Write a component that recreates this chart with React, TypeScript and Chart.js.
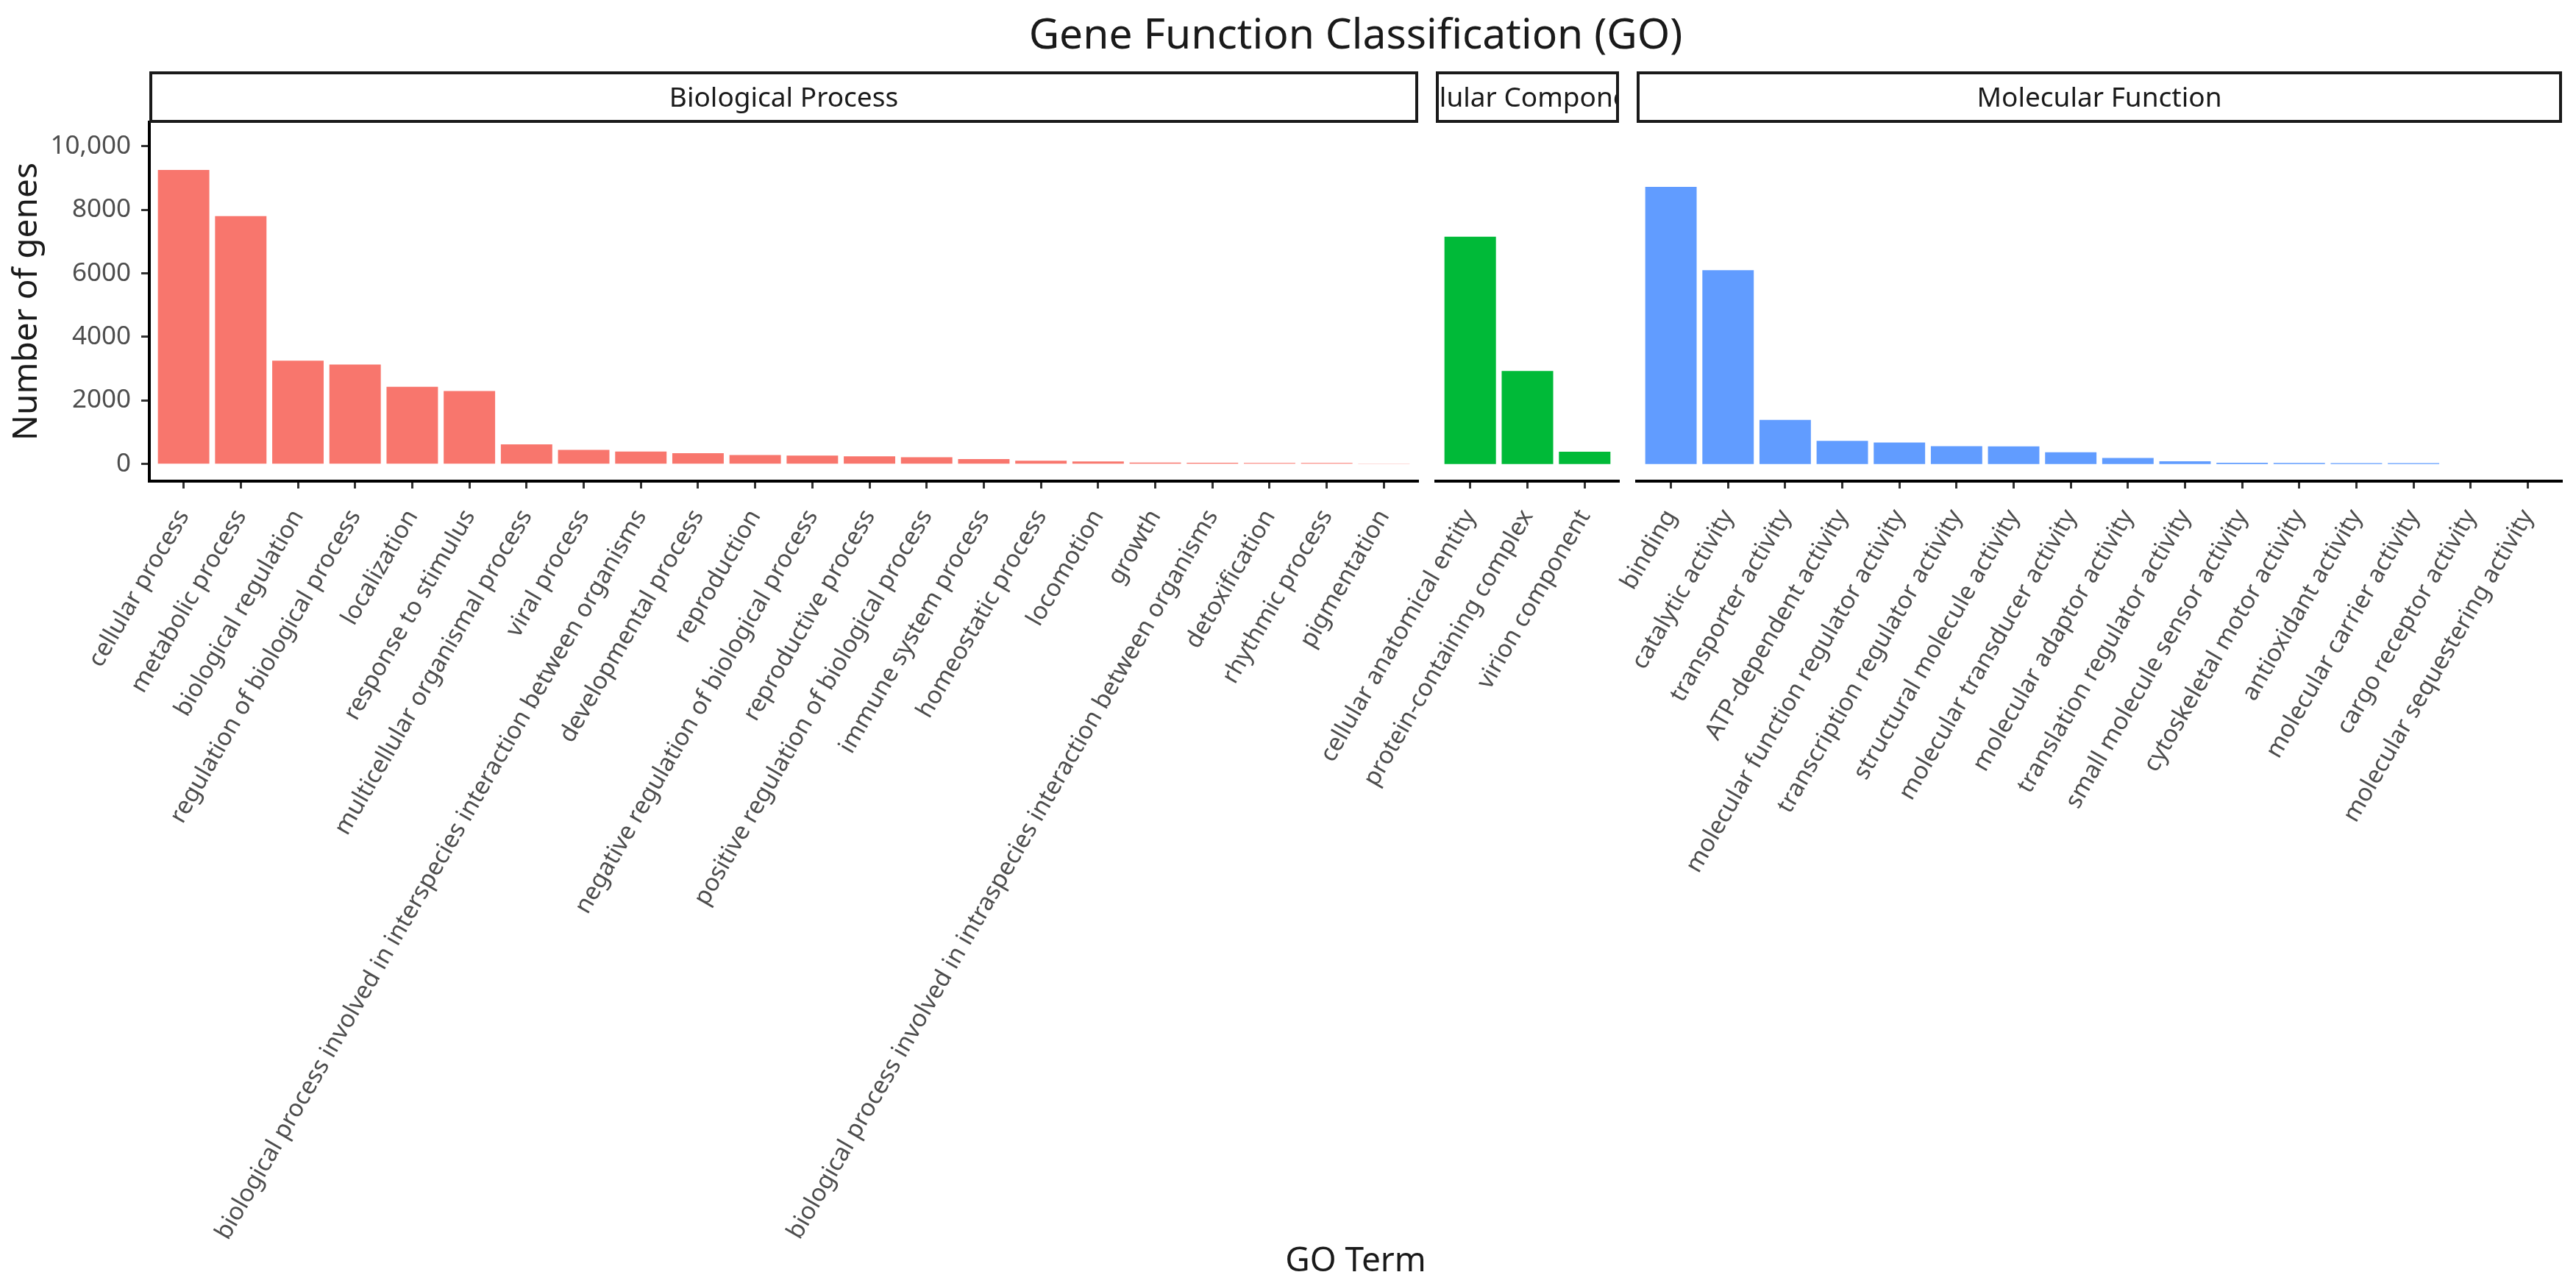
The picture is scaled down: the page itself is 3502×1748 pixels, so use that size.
import React, { useEffect, useRef } from 'react';
import { Chart, registerables } from 'chart.js';

Chart.register(...registerables);

// ---------- data ----------
const BP_TERMS = [
  'cellular process',
  'metabolic process',
  'biological regulation',
  'regulation of biological process',
  'localization',
  'response to stimulus',
  'multicellular organismal process',
  'viral process',
  'biological process involved in interspecies interaction between organisms',
  'developmental process',
  'reproduction',
  'negative regulation of biological process',
  'reproductive process',
  'positive regulation of biological process',
  'immune system process',
  'homeostatic process',
  'locomotion',
  'growth',
  'biological process involved in intraspecies interaction between organisms',
  'detoxification',
  'rhythmic process',
  'pigmentation',
];
const BP_VALUES = [9250, 7800, 3250, 3130, 2430, 2300, 620, 445, 395, 345, 285, 270, 245, 215, 160, 108, 80, 45, 40, 38, 35, 4];

const CC_TERMS = ['cellular anatomical entity', 'protein-containing complex', 'virion component'];
const CC_VALUES = [7150, 2930, 390];

const MF_TERMS = [
  'binding',
  'catalytic activity',
  'transporter activity',
  'ATP-dependent activity',
  'molecular function regulator activity',
  'transcription regulator activity',
  'structural molecule activity',
  'molecular transducer activity',
  'molecular adaptor activity',
  'translation regulator activity',
  'small molecule sensor activity',
  'cytoskeletal motor activity',
  'antioxidant activity',
  'molecular carrier activity',
  'cargo receptor activity',
  'molecular sequestering activity',
];
const MF_VALUES = [8720, 6100, 1390, 730, 680, 565, 555, 370, 190, 90, 40, 35, 30, 30, 2, 1];

const FACET_NAMES = ['Biological Process', 'Cellular Component', 'Molecular Function'];
const FACET_COLORS = ['#F8766D', '#00BA38', '#619CFF'];

const Y_TICKS = [0, 2000, 4000, 6000, 8000, 10000];
const Y_TICK_LABELS = ['0', '2000', '4000', '6000', '8000', '10,000'];
const Y_MIN = -537;
const Y_MAX = 10757;

const TITLE = 'Gene Function Classification (GO)';
const X_TITLE = 'GO Term';
const Y_TITLE = 'Number of genes';

// ---------- layout ----------
const W = 3502;
const H = 1748;
const PANEL_TOP = 166;
const PANEL_BOTTOM = 654;
const PANEL_X: [number, number][] = [
  [203, 1928],
  [1952, 2201],
  [2225, 3483],
];
const FONT = '"Noto Sans", "DejaVu Sans", sans-serif';

const PANELS = [
  { terms: BP_TERMS, values: BP_VALUES },
  { terms: CC_TERMS, values: CC_VALUES },
  { terms: MF_TERMS, values: MF_VALUES },
];

function stripPlugin(name: string) {
  return {
    id: 'strip',
    afterDraw(chart: any) {
      const { ctx, chartArea } = chart;
      const l = chartArea.left;
      const r = chartArea.right;
      const top = 99;
      const bottom = 165;
      ctx.save();
      ctx.fillStyle = '#ffffff';
      ctx.fillRect(l, top, r - l, bottom - top);
      ctx.lineWidth = 4;
      ctx.strokeStyle = '#1a1a1a';
      ctx.strokeRect(l + 2, top, r - l - 4, bottom - top);
      ctx.beginPath();
      ctx.rect(l + 4, top + 2, r - l - 8, bottom - top - 4);
      ctx.clip();
      ctx.fillStyle = '#1a1a1a';
      ctx.font = `37px ${FONT}`;
      ctx.textAlign = 'center';
      ctx.textBaseline = 'alphabetic';
      ctx.fillText(name, (l + r) / 2, 145);
      ctx.restore();
    },
  };
}

const textPlugin = {
  id: 'figtext',
  afterDraw(chart: any) {
    const { ctx } = chart;
    const cx = (PANEL_X[0][0] + PANEL_X[2][1]) / 2;
    ctx.save();
    ctx.fillStyle = '#1a1a1a';
    ctx.textAlign = 'center';
    ctx.textBaseline = 'alphabetic';
    ctx.font = `57px ${FONT}`;
    ctx.fillText(TITLE, cx, 66);
    ctx.font = `46px ${FONT}`;
    ctx.fillText(X_TITLE, cx, 1728);
    ctx.translate(50, (PANEL_TOP + PANEL_BOTTOM) / 2);
    ctx.rotate(-Math.PI / 2);
    ctx.fillText(Y_TITLE, 0, 0);
    ctx.restore();
  },
};

function makeConfig(k: number): any {
  const p = PANELS[k];
  const n = p.terms.length;
  const [left, right] = PANEL_X[k];
  const first = k === 0;
  return {
    type: 'bar',
    data: {
      datasets: [
        {
          data: p.values.map((v, i) => ({ x: i, y: v })),
          backgroundColor: FACET_COLORS[k],
          borderWidth: 0,
          categoryPercentage: 1,
          barPercentage: 0.9,
        },
      ],
    },
    options: {
      responsive: false,
      animation: false,
      devicePixelRatio: 1,
      layout: {
        padding: { top: PANEL_TOP, bottom: 0, left: first ? 0 : left, right: W - right },
      },
      plugins: {
        legend: { display: false },
        tooltip: { enabled: false },
        title: { display: false },
      },
      scales: {
        x: {
          type: 'linear',
          min: -0.6,
          max: n - 0.4,
          offset: false,
          grid: {
            offset: false,
            drawOnChartArea: false,
            drawTicks: true,
            tickLength: 10,
            tickWidth: 3,
            tickColor: '#333333',
            color: '#333333',
          },
          border: { display: true, color: '#000000', width: 4 },
          afterBuildTicks: (s: any) => {
            s.ticks = p.terms.map((_, i) => ({ value: i }));
          },
          ticks: {
            autoSkip: false,
            maxRotation: 60,
            minRotation: 60,
            padding: 22,
            color: '#4D4D4D',
            font: { family: FONT, size: 33 },
            callback: (v: number) => p.terms[Math.round(v)] ?? '',
          },
          afterFit: (s: any) => {
            s.height = H - PANEL_BOTTOM;
          },
        },
        y: {
          display: first,
          min: Y_MIN,
          max: Y_MAX,
          grid: {
            drawOnChartArea: false,
            drawTicks: true,
            tickLength: 11,
            tickWidth: 3,
            tickColor: '#333333',
            color: '#333333',
          },
          border: { display: true, color: '#000000', width: 4 },
          afterBuildTicks: (s: any) => {
            s.ticks = Y_TICKS.map((v) => ({ value: v }));
          },
          ticks: {
            padding: 14,
            color: '#4D4D4D',
            font: { family: FONT, size: 35 },
            callback: (v: number) => {
              const idx = Y_TICKS.indexOf(v);
              return idx >= 0 ? Y_TICK_LABELS[idx] : '';
            },
          },
          afterFit: (s: any) => {
            s.width = first ? PANEL_X[0][0] : 0;
          },
        },
      },
    },
    plugins: first ? [stripPlugin(FACET_NAMES[k]), textPlugin] : [stripPlugin(FACET_NAMES[k])],
  };
}

export default function App() {
  const r0 = useRef<HTMLCanvasElement>(null);
  const r1 = useRef<HTMLCanvasElement>(null);
  const r2 = useRef<HTMLCanvasElement>(null);
  const refs = [r0, r1, r2];

  useEffect(() => {
    document.body.style.margin = '0';
    const charts = refs.map((r, k) => new Chart(r.current as HTMLCanvasElement, makeConfig(k)));
    return () => charts.forEach((c) => c.destroy());
  }, []);

  return (
    <div
      style={{
        position: 'absolute',
        left: 0,
        top: 0,
        width: W,
        height: H,
        background: '#ffffff',
        overflow: 'hidden',
      }}
    >
      {refs.map((r, k) => (
        <canvas
          key={k}
          ref={r}
          width={W}
          height={H}
          style={{ position: 'absolute', left: 0, top: 0, width: W, height: H }}
        />
      ))}
    </div>
  );
}
